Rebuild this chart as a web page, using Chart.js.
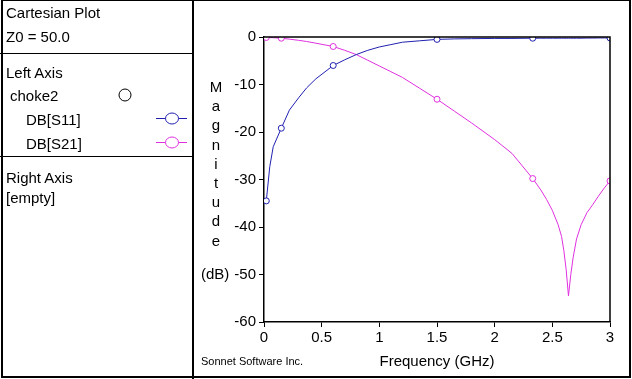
<!DOCTYPE html>
<html>
<head>
<meta charset="utf-8">
<script src="https://cdn.jsdelivr.net/npm/chart.js@4/dist/chart.umd.min.js"></script>
<style>
  body { margin: 0; background: #fff; }
  #wrap { position: relative; width: 632px; height: 379px; overflow: hidden; font-family: "Liberation Sans", Arial, sans-serif; color: #000; }
  #chart { position: absolute; left: 0; top: 0; }
  .t { position: absolute; font-size: 15px; line-height: 15px; white-space: nowrap; }
  .line { position: absolute; background: #000; }
  #ytitle { position: absolute; left: 205px; top: 77px; width: 22px; text-align: center; font-size: 15px; line-height: 19.2px; }
  #sonnet { position: absolute; left: 201px; top: 355px; font-size: 11px; white-space: nowrap; }
  .sym { position: absolute; }
</style>
</head>
<body>
<div id="wrap">
  <canvas id="chart" width="632" height="379"></canvas>

  <!-- frame -->
  <div style="position:absolute;left:1px;top:0;width:630px;height:378px;border:2px solid #000;border-top-width:1px;box-sizing:border-box;"></div>
  <div class="line" style="left:192px;top:0;width:2px;height:379px;"></div>
  <div class="line" style="left:0;top:53px;width:193px;height:1px;"></div>
  <div class="line" style="left:0;top:156px;width:193px;height:1px;"></div>

  <!-- left panel -->
  <div class="t" style="left:6px;top:5px;">Cartesian Plot</div>
  <div class="t" style="left:6px;top:29px;">Z0 = 50.0</div>
  <div class="t" style="left:6px;top:65px;">Left Axis</div>
  <div class="t" style="left:10px;top:88px;">choke2</div>
  <div class="t" style="left:26px;top:112px;">DB[S11]</div>
  <div class="t" style="left:26px;top:136px;">DB[S21]</div>
  <div class="t" style="left:6px;top:170px;">Right Axis</div>
  <div class="t" style="left:6px;top:190px;">[empty]</div>

  <svg class="sym" style="left:0;top:0;" width="192" height="160">
    <ellipse cx="125" cy="95" rx="6" ry="6" fill="none" stroke="#000" stroke-width="1"/>
    <line x1="156" y1="118.5" x2="187" y2="118.5" stroke="rgb(32,32,176)"/>
    <ellipse cx="172" cy="118.5" rx="6.5" ry="5.5" fill="#fff" stroke="rgb(32,32,176)"/>
    <line x1="156" y1="142.5" x2="187" y2="142.5" stroke="rgb(224,48,224)"/>
    <ellipse cx="172" cy="142.5" rx="6.5" ry="5.5" fill="#fff" stroke="rgb(224,48,224)"/>
  </svg>

  <div id="ytitle">M<br>a<br>g<br>n<br>i<br>t<br>u<br>d<br>e</div>
  <div class="t" style="left:201px;top:266px;">(dB)</div>
  <div id="sonnet">Sonnet Software Inc.</div>
</div>

<script>
// frequency points (GHz)
var freqGHz = [0.02, 0.05, 0.08, 0.15, 0.22, 0.3, 0.37, 0.45, 0.6, 0.7, 0.8, 0.9, 1.0, 1.1, 1.2, 1.35,
    1.5, 1.65, 1.8, 2.0, 2.15, 2.33, 2.4, 2.45, 2.5, 2.55, 2.58, 2.6, 2.62, 2.64, 2.66, 2.68, 2.71,
    2.75, 2.8, 2.85, 2.9, 2.95, 3.0];

// DB[S11]
var s11dB = [-34.5, -27.3, -23.1, -19.2, -15.4, -12.8, -10.7, -8.8, -6.0, -4.8, -3.7, -2.8, -2.1, -1.6, -1.1, -0.8,
    -0.5, -0.4, -0.35, -0.3, -0.3, -0.25, -0.25, -0.25, -0.25, -0.25, -0.25, -0.25, -0.25, -0.25, -0.25, -0.25, -0.25,
    -0.25, -0.22, -0.22, -0.2, -0.2, -0.2];

// DB[S21]
var s21dB = [-0.1, -0.12, -0.15, -0.25, -0.45, -0.7, -0.95, -1.3, -2.0, -2.8, -3.7, -4.9, -6.1, -7.3, -8.5, -10.8,
    -13.1, -15.6, -18.1, -21.6, -24.5, -29.8, -32.2, -34.2, -36.5, -39.5, -42, -45, -49, -54.5, -50, -46.5, -42.5,
    -39.5, -37, -35.3, -33.5, -31.8, -30.3];

// frequencies that carry a marker symbol
var markerFreqs = [0.02, 0.15, 0.6, 1.5, 2.33, 3.0];

var xTicks = [0, 0.5, 1, 1.5, 2, 2.5, 3];
var yTicks = [0, -10, -20, -30, -40, -50, -60];

var blue = 'rgb(32,32,176)';
var magenta = 'rgb(224,48,224)';

function toPoints(values) {
    return freqGHz.map(function (f, i) { return { x: f, y: values[i] }; });
}

function markerRadius(ctx) {
    var f = freqGHz[ctx.dataIndex];
    return markerFreqs.indexOf(f) >= 0 ? 3 : 0;
}

// box around the plot area
var boxPlugin = {
    id: 'box',
    afterDraw: function (chart) {
        var a = chart.chartArea;
        var c = chart.ctx;
        c.save();
        c.strokeStyle = '#000';
        c.lineWidth = 1.5;
        c.beginPath();
        c.moveTo(a.left, a.top);
        c.lineTo(a.right, a.top);
        c.lineTo(a.right, a.bottom);
        c.stroke();
        c.restore();
    }
};

var tickFont = { family: '"Liberation Sans", Arial, sans-serif', size: 15 };

new Chart(document.getElementById('chart'), {
    type: 'scatter',
    data: {
        datasets: [
            {
                label: 'DB[S11]',
                data: toPoints(s11dB),
                showLine: true,
                borderColor: blue,
                borderWidth: 1,
                pointRadius: markerRadius,
                pointBorderColor: blue,
                pointBackgroundColor: '#fff',
                pointBorderWidth: 1,
                tension: 0
            },
            {
                label: 'DB[S21]',
                data: toPoints(s21dB),
                showLine: true,
                borderColor: magenta,
                borderWidth: 1,
                pointRadius: markerRadius,
                pointBorderColor: magenta,
                pointBackgroundColor: '#fff',
                pointBorderWidth: 1,
                tension: 0
            }
        ]
    },
    options: {
        responsive: false,
        animation: false,
        layout: { padding: { left: 194, top: 37, right: 22, bottom: 0 } },
        plugins: { legend: { display: false }, tooltip: { enabled: false } },
        scales: {
            x: {
                type: 'linear',
                min: 0,
                max: 3,
                afterFit: function (s) { s.height = 57; },
                afterBuildTicks: function (s) { s.ticks = xTicks.map(function (v) { return { value: v }; }); },
                ticks: {
                    color: '#000', font: tickFont, padding: 2, maxRotation: 0,
                    callback: function (v) { return String(v); }
                },
                grid: { drawOnChartArea: false, drawTicks: true, tickLength: 5, color: '#000' },
                border: { color: '#000', width: 1.5 },
                title: { display: true, text: 'Frequency (GHz)', color: '#000', font: tickFont, padding: { top: 0, bottom: 8 } }
            },
            y: {
                type: 'linear',
                min: -60,
                max: 0,
                afterFit: function (s) { s.width = 70; },
                afterBuildTicks: function (s) { s.ticks = yTicks.map(function (v) { return { value: v }; }); },
                ticks: {
                    color: '#000', font: tickFont, padding: 3,
                    callback: function (v) { return String(v); }
                },
                grid: { drawOnChartArea: false, drawTicks: true, tickLength: 5, color: '#000' },
                border: { color: '#000', width: 1.5 }
            }
        }
    },
    plugins: [boxPlugin]
});
</script>
</body>
</html>
